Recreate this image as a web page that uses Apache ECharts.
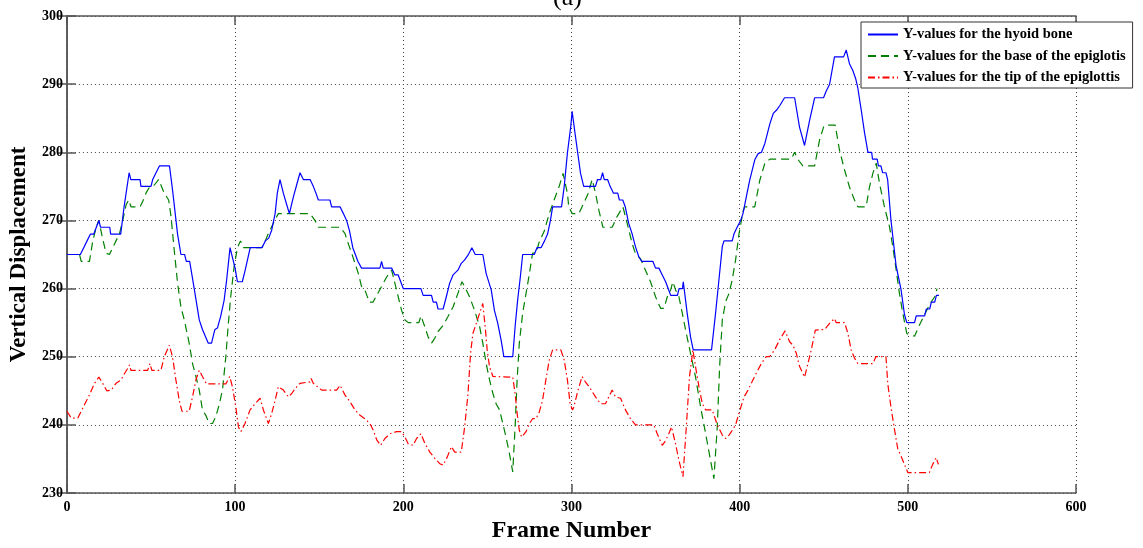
<!DOCTYPE html>
<html>
<head>
<meta charset="utf-8">
<script src="https://cdn.jsdelivr.net/npm/echarts@6/dist/echarts.min.js"></script>
<style>
  html, body { margin: 0; padding: 0; background: #fff; }
  #chart { width: 1143px; height: 548px; }
</style>
</head>
<body>
<div id="chart"></div>
<script>
// [frame, y] pairs
var hyoid = [[0,265],[8,265],[10,266],[12,267],[14,268],[16,268],[17.5,269],[19,270],[20,269],[25.5,269],[26,268],[32,268],[34,272],[37,277],[38,276],[43.5,276],[44,275],[50,275],[51,276],[53,277],[55,278],[61,278],[62.8,274.5],[65.8,268],[67.8,265],[70,265],[71,264],[73,264],[75.7,260],[78.7,255.4],[80.6,254],[84,252],[86,252],[88,254],[89.5,254.2],[91.5,256],[93.5,258.3],[95,261.3],[97,266],[98.5,264.5],[100,263],[101.4,261],[104.3,261],[106,262.7],[109,266],[116,266],[118,267],[120,267.4],[121.8,268.6],[123.8,271],[125.1,274],[126.7,276],[128.7,274],[130.7,272.3],[132.3,271],[134.7,273.5],[136.6,275.2],[138.6,277],[140.6,276],[144.6,276],[146.5,275],[148.1,274],[149.5,273],[156.4,273],[157.4,272],[162.4,272],[164.4,271],[166.3,270],[168,268.5],[170,266],[173,264],[175.2,263],[186.1,263],[187.1,264],[188.1,263],[193.1,263],[195,262],[197,262],[198.5,261],[200,260],[210.5,260],[211.8,259],[216.8,259],[217.8,258],[219.7,258],[220.7,257],[223.7,257],[225.6,258.8],[227.6,260.8],[229.6,262],[232.5,262.7],[234.5,263.7],[236.5,264.2],[238.5,264.9],[240.8,266],[242.8,265],[247.3,265],[249.3,262.2],[252.3,259.8],[254.2,256.8],[256.2,254.9],[258.2,252.4],[259.8,250],[265.1,250],[266.5,254.4],[268,258.3],[269.6,261.7],[271,265],[277.9,265],[279.5,266],[281.9,266],[284,267],[285.8,268],[287.5,270],[288.8,272],[294.1,272],[295.7,275],[297.6,279.9],[299.6,283.8],[300.4,286],[302.4,282.3],[305.4,276.9],[307.3,275],[314.3,275],[315.5,276],[317.4,276],[318.5,277],[319.5,276],[321.5,276],[323,275],[325,274],[327.5,274],[328.5,273],[330.5,273],[332,272],[334,269.6],[336,268.1],[338,266.2],[340,264.7],[341.7,264],[348.4,264],[350,263],[352,263],[354,262],[356,261],[357.5,260],[359,259],[363,259],[364,260],[366,260],[366.5,261],[368.8,256.4],[370.8,252.9],[372.4,251],[383.3,251],[385.7,256.4],[387.7,261.3],[389.7,266.2],[390.7,267],[395.6,267],[396.6,268],[397.6,268],[398.5,269],[400.6,270],[402,271],[404,273.5],[406,275.9],[409,278.9],[411,279.8],[413,280],[415,281.3],[418,284.2],[420,285.7],[422,286.2],[424,286.9],[426.7,288],[432.7,288],[435.6,283.7],[438.6,281],[441.6,284.7],[444.6,288],[449.9,288],[451.5,289],[453.5,290],[456.4,294],[461.8,294],[463.4,295],[465.3,293],[467.3,292],[469,290.8],[470.3,289.4],[472.3,286.2],[474.3,282.8],[476.3,280],[478.5,280],[479,279],[481.8,279],[482.5,278],[484,278],[485,277],[487,277],[488,276],[490,270],[493,263.4],[496,259.8],[498,256.2],[499.4,255],[504,255],[505,256],[510,256],[511,257],[513,257],[514,258],[516,258],[517,259],[518.5,259]];

var epiBase = [[0,265],[7.5,265],[8.5,264],[13.4,264],[15.4,267],[17.4,269],[19,270],[21,267.6],[23.3,265.2],[25.3,265],[27.3,266],[29.2,267],[31.2,268],[33.2,270],[35.2,272.3],[36.8,273],[38.1,272],[43.5,272],[45.1,272.8],[47,274],[49.4,275],[52,275.2],[54.5,276],[55.9,275.2],[57.9,274],[60.5,273],[61.9,270.6],[63.8,265.7],[65.8,260.8],[67.8,257.3],[69.8,255.4],[72.7,252],[74.7,249],[76.7,247.1],[78.7,245.1],[80.6,242.2],[82.6,241.4],[84.6,240.2],[86.6,240.2],[88.5,241.2],[90.5,242.9],[92.5,245.1],[94.5,250],[96,254.9],[97.4,258.8],[99.4,263.2],[101.4,266],[103.2,267],[105,266],[115.8,266],[117.8,266.9],[119.8,268.1],[121.8,269.1],[123.8,270.1],[125.7,271],[144.6,271],[147.5,270],[149.5,269],[162.4,269],[165.3,268.1],[167.3,266.6],[169.3,265.2],[171.3,263.7],[173.3,262.2],[175.2,260.3],[177.2,259.8],[179.8,258],[182,258],[184.2,259],[187.1,260.3],[190.1,261.7],[193.1,262.7],[195,260.8],[197,258.8],[199,256.8],[201,255.4],[203,255],[209.3,255],[210.5,256],[212.8,254.4],[214.8,252.9],[216.8,252],[218.7,252.7],[220.7,253.7],[223.7,254.6],[226.6,255.9],[229.6,257.3],[232.5,259.3],[234.9,261],[236.5,260.3],[239.4,258.8],[242.4,256.8],[245.4,254.4],[247.3,252],[249.3,249],[251.3,246.6],[253.3,244.6],[255.2,243.1],[257.2,242.2],[259.2,240.2],[261.1,238.2],[263.1,235.8],[265.1,233.1],[266.5,239.7],[267.7,246.6],[269,252],[271,256.4],[273,259.3],[275,262.2],[276.9,265.2],[278.9,265.2],[280.9,266.9],[283.8,268.4],[286.8,271],[289.7,273],[292.7,275],[295,276.9],[297.6,274],[298.4,272],[300.4,271],[304.4,271],[307.3,272.5],[310,274],[312.3,276],[314.3,274],[316.3,271.5],[318.7,269],[324.2,269],[327.2,270.6],[330.6,272],[333.1,269.6],[336.1,266.6],[338.1,265.1],[341,264.4],[344,262.7],[347,261],[350,258.8],[353,257.1],[355,257.1],[357,258.8],[359,259.8],[360.3,261],[361.9,259.8],[363.9,258.8],[365.9,256.4],[367.9,253.9],[370.8,250.5],[373.8,247],[376.8,242.6],[379.8,238.7],[382.7,234.8],[384.7,232.1],[386.7,239.7],[388.1,248.5],[389.7,255.4],[391.7,258.1],[393.7,259.3],[395.6,261.3],[397.6,264.2],[399.6,268],[402,271.3],[403,272],[409,272],[412,275.9],[415,278.4],[418,279],[430.7,279],[432.7,280],[434.5,279],[437.6,278],[444.6,278],[447.5,281.8],[449.9,283.7],[451,284],[456.8,284],[459.4,280.3],[462.4,277.4],[465.3,274.9],[468.3,273],[470.3,272],[475.2,272],[477.2,274.9],[479.2,276.9],[481.2,278.4],[483.2,275.4],[486.1,272],[489.1,269.1],[491.1,266.1],[493.1,262.7],[495,259.3],[497,256.4],[499.4,253.4],[504,253],[507,254.7],[510,256.2],[513,257.7],[516,258.8],[517.4,260]];

var epiTip = [[0,242],[2.6,241],[6.5,241],[8.5,242],[10.5,243],[13.4,244.4],[16.4,246.1],[19,247],[21.3,246.1],[23.7,245],[26.3,245.1],[29.2,246.1],[32.2,246.6],[34.2,247.5],[36.2,248.3],[37.2,248.8],[38.1,248],[48,248],[49.4,249],[50.5,248],[55.9,248],[57.9,250],[60.9,251.7],[62.8,250],[64.8,246.6],[66.8,243.6],[68.4,242],[72.7,242],[74.7,244.1],[76.7,246.6],[78.7,248],[80.6,247.1],[83,246],[94.5,246],[96.8,247.1],[98.4,245.6],[100.4,242.7],[102,239.7],[103.4,239],[105.9,240.2],[108.9,242.2],[111.9,243.1],[114.9,243.9],[116.8,242.2],[119.8,240.2],[121.8,241.7],[123.8,243.6],[125.7,245.6],[128.7,245.1],[131.7,244.1],[133.7,244.6],[135.6,245.3],[138.6,246.1],[144.6,246.3],[145.2,246.8],[146.5,246.1],[151.5,245.1],[160.4,245.1],[162.4,245.8],[165.3,244.4],[168.3,243.4],[171.3,242.2],[174.3,241.4],[177.2,240.9],[180.2,240.2],[182.2,239.2],[184.2,237.8],[186.5,237],[189.1,238],[192.1,238.7],[196,239],[199,239],[201,238.2],[203,237.2],[205.9,237],[207.9,238],[210.5,238.7],[212.8,237.3],[215.8,236],[218.7,235.1],[221.7,234.3],[223.7,234.1],[226.2,235.3],[228.6,236.8],[230.6,236],[234.5,236],[236.5,239.7],[238.5,244.6],[240,250.5],[241.4,253.4],[243.4,254.9],[245.4,256.4],[247.3,257.8],[248.7,254.4],[249.9,251],[251.3,248.5],[253.3,247.1],[265.1,247],[266.5,244.6],[267.7,241.7],[269,239.2],[270.4,238.2],[273,239],[275,240.2],[276.9,240.9],[278.9,240.9],[280.9,241.9],[282.8,243.6],[284.8,246.6],[286.8,249.5],[288.8,251],[293.7,251],[295.7,249.5],[297.6,246.6],[299.2,243.1],[300.6,242.2],[301.4,242.6],[303.4,244.6],[306.3,247.1],[308.3,246.3],[311.3,245.3],[314.3,244.1],[317.3,243.1],[320.2,243.1],[322.2,244.1],[324.2,245.1],[326.2,244.1],[329.2,243.9],[332.1,242.2],[335.1,240.9],[338.1,240],[349,240],[351,238.7],[354,237],[356,237.7],[357.9,238.7],[359.5,239.7],[361.9,237.2],[363.9,234.8],[366.3,232.4],[368.3,239.7],[370.2,247.1],[372.2,251],[373.8,248.5],[375.8,245.6],[377.8,243.1],[379.8,242.2],[383.7,242.2],[386.7,240],[389.7,238.5],[391.7,238],[393.7,238.5],[395.6,239.2],[397.6,240],[399.6,241.7],[402.6,244.1],[405,245.1],[408.9,247.1],[412.9,249],[415.8,250],[417.8,250],[420.8,251],[423.8,252.5],[427,253.8],[429.7,252.2],[431.7,251.7],[433.7,250.5],[435.6,248.6],[438.6,247],[440.6,249],[442.6,251],[445,253.9],[450.5,254],[453.5,254.9],[456.4,255.6],[457.4,255],[462.4,255],[464.4,253.4],[466.3,251],[468.3,249.8],[470.3,249],[479.3,249],[481,250],[487,250],[488.1,246],[490.1,242.4],[492.1,239.3],[494,236.5],[496,235.4],[498,234.2],[500,233],[512.8,233],[514.8,234.2],[516.8,235.2],[518.2,234.2]];

var seriesNames = ['Y-values for the hyoid bone', 'Y-values for the base of the epiglotis', 'Y-values for the tip of the epiglottis'];

var serif = 'Liberation Serif';
var myChart = echarts.init(document.getElementById('chart'));

// MATLAB-like box: mirror axes on top / right carry only the ticks
var boxAxis = function (pos) {
    return {
        type: 'value', position: pos, min: pos === 'top' ? 0 : 230, max: pos === 'top' ? 600 : 300,
        interval: pos === 'top' ? 100 : 10,
        axisLine: {show: true, lineStyle: {color: '#555', width: 1.5}},
        axisTick: {show: true, inside: true, length: 9, lineStyle: {color: '#555', width: 1.5}},
        axisLabel: {show: false},
        splitLine: {show: false}
    };
};

var option = {
    animation: false,
    backgroundColor: '#fff',
    title: {
        text: '(a)',
        left: 548,
        top: -20,
        textStyle: {fontFamily: serif, fontWeight: 'normal', fontSize: 26, color: '#000'}
    },
    legend: {
        orient: 'vertical',
        left: 861,
        top: 22,
        padding: [5, 7, 3, 6],
        itemGap: 6.5,
        itemWidth: 30,
        itemHeight: 14,
        backgroundColor: '#fff',
        borderColor: '#333',
        borderWidth: 1,
        borderRadius: 0,
        itemStyle: {opacity: 0},
        textStyle: {fontFamily: serif, fontWeight: 'bold', fontSize: 14.5, color: '#000'},
        data: seriesNames
    },
    grid: {left: 64, right: 67, top: 16, bottom: 55},
    xAxis: [{
        type: 'value', min: 0, max: 600, interval: 100,
        name: 'Frame Number', nameLocation: 'middle', nameGap: 26,
        nameTextStyle: {fontFamily: serif, fontWeight: 'bold', fontSize: 24, color: '#000'},
        axisLine: {lineStyle: {color: '#555', width: 1.5}},
        axisTick: {inside: true, length: 9, lineStyle: {color: '#555', width: 1.5}},
        axisLabel: {fontFamily: serif, fontWeight: 'bold', fontSize: 14, color: '#000', margin: 7},
        splitLine: {show: true, lineStyle: {color: '#444', width: 1, type: [1, 3]}}
    }, boxAxis('top')],
    yAxis: [{
        type: 'value', min: 230, max: 300, interval: 10,
        name: 'Vertical Displacement', nameLocation: 'middle', nameGap: 35, nameRotate: 90,
        nameTextStyle: {fontFamily: serif, fontWeight: 'bold', fontSize: 23, color: '#000'},
        axisLine: {show: true, lineStyle: {color: '#555', width: 1.5}},
        axisTick: {show: true, inside: true, length: 9, lineStyle: {color: '#555', width: 1.5}},
        axisLabel: {fontFamily: serif, fontWeight: 'bold', fontSize: 14, color: '#000', margin: 4},
        splitLine: {show: true, lineStyle: {color: '#444', width: 1, type: [1, 3]}}
    }, boxAxis('right')],
    series: [{
        name: seriesNames[0], type: 'line', data: hyoid, symbol: 'none', z: 3,
        lineStyle: {color: '#0000ff', width: 1.2, type: 'solid'},
        itemStyle: {color: '#0000ff'}
    }, {
        name: seriesNames[1], type: 'line', data: epiBase, symbol: 'none', z: 2,
        lineStyle: {color: '#008000', width: 1.2, type: [8, 5]},
        itemStyle: {color: '#008000'}
    }, {
        name: seriesNames[2], type: 'line', data: epiTip, symbol: 'none', z: 2,
        lineStyle: {color: '#ff0000', width: 1.2, type: [7, 3, 1.5, 3]},
        itemStyle: {color: '#ff0000'}
    }]
};
myChart.setOption(option);
</script>
</body>
</html>
